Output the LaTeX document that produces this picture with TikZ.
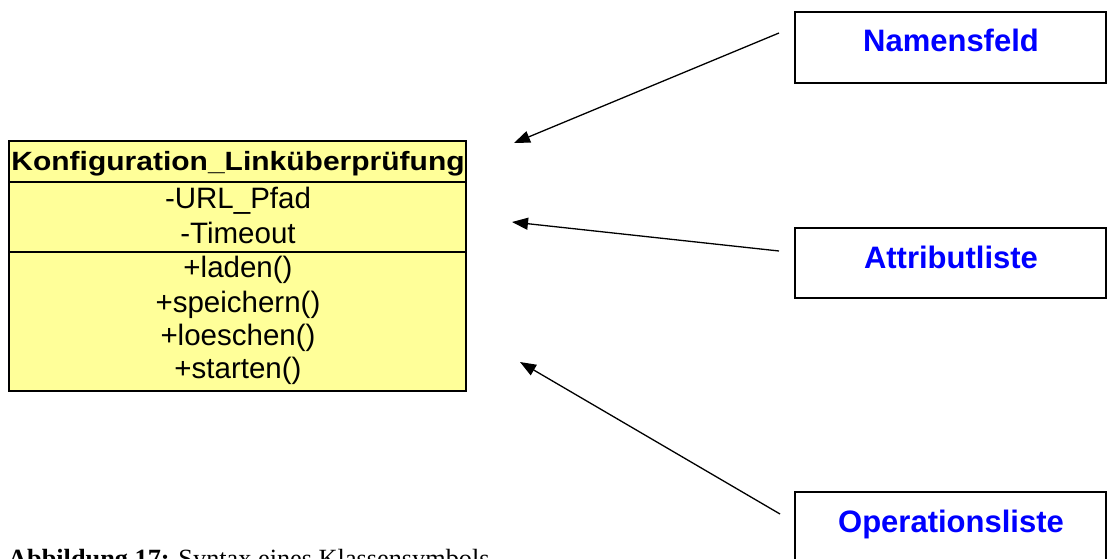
\documentclass[tikz,border=0pt]{standalone}
\usepackage{fontspec}
\setmainfont{Liberation Serif}
\newfontfamily\arialfont{Liberation Sans}
\usetikzlibrary{arrows.meta}
\definecolor{classfill}{RGB}{255,255,153}
\definecolor{labelblue}{RGB}{0,0,255}
\tikzset{
  classbox/.style={draw=black, line width=1.6pt, fill=classfill},
  member/.style={anchor=base, inner sep=0pt, font=\arialfont\fontsize{29.5}{34}\selectfont},
  labelbox/.style={draw=black, line width=1.6pt, fill=white},
  labeltext/.style={anchor=base, inner sep=0pt, text=labelblue, font=\arialfont\bfseries\fontsize{31}{36}\selectfont},
  pointer/.style={draw=black, line width=1.3pt, -{Triangle[length=16pt,width=12pt]}},
}
\begin{document}
\begin{tikzpicture}[x=1pt, y=-1pt]
\useasboundingbox (0,0) rectangle (1108,559);

% class symbol
\draw[classbox] (9,141) rectangle (466,391);
\draw[line width=1.6pt] (9,182) -- (466,182);
\draw[line width=1.6pt] (9,252) -- (466,252);
\node[member, font=\arialfont\bfseries\fontsize{30}{34}\selectfont] (cname) at (238,171)
  {\scalebox{1}[0.88]{Konfiguration\_Linküberprüfung}};
\node[member] (a1) at (238,208) {-URL\_Pfad};
\node[member] (a2) at (238,243) {-Timeout};
\node[member] (o1) at (238,277) {+laden()};
\node[member] (o2) at (238,312) {+speichern()};
\node[member] (o3) at (238,345) {+loeschen()};
\node[member] (o4) at (238,378) {+starten()};

% label boxes
\draw[labelbox] (795,12) rectangle (1106,83);
\node[labeltext] (lname) at (951,52) {Namensfeld};
\draw[labelbox] (795,228) rectangle (1106,298);
\node[labeltext] (lattr) at (951,268) {Attributliste};
\draw[labelbox] (795,492) rectangle (1106,580);
\node[labeltext] (lops) at (951,532) {Operationsliste};

% pointers
\coordinate (p1s) at (779,33);
\coordinate (p1e) at (514,143);
\coordinate (p2s) at (779,251);
\coordinate (p2e) at (512,222);
\coordinate (p3s) at (780,514);
\coordinate (p3e) at (520,362);
\draw[pointer] (p1s) -- (p1e);
\draw[pointer] (p2s) -- (p2e);
\draw[pointer] (p3s) -- (p3e);

% caption
\node[anchor=base west, inner sep=0pt, font=\fontsize{26.3}{30}\selectfont] (caption) at (8,567)
  {\textbf{Abbildung 17:} Syntax eines Klassensymbols};
\end{tikzpicture}
\end{document}
